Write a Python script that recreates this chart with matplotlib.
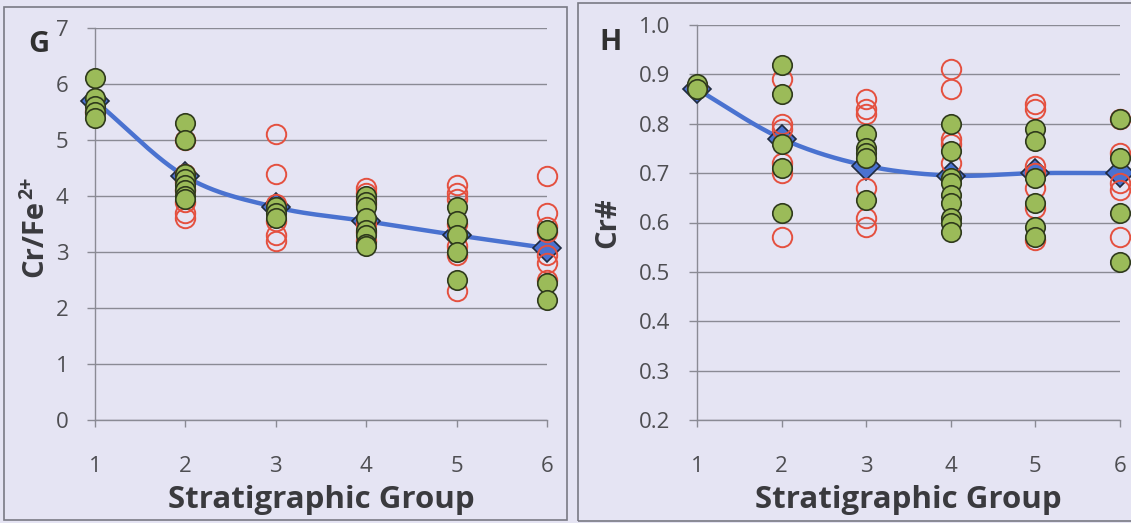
import numpy as np
import matplotlib
matplotlib.use("Agg")
import matplotlib.pyplot as plt
from matplotlib.patches import Rectangle

plt.rcParams['font.family'] = ['Open Sans', 'DejaVu Sans']

groups = [1, 2, 3, 4, 5, 6]

# Panel G: Cr/Fe2+ ratio
g_mean = [5.70, 4.35, 3.80, 3.55, 3.30, 3.07]
g_green = [
    [6.10, 5.75, 5.60, 5.50, 5.40],
    [5.30, 5.00, 4.40, 4.30, 4.20, 4.10, 4.00, 3.95],
    [3.80, 3.70, 3.60],
    [4.00, 3.90, 3.80, 3.60, 3.40, 3.30, 3.15, 3.10],
    [3.80, 3.55, 3.30, 3.00, 2.50],
    [3.40, 2.45, 2.15],
]
g_red = [
    [5.50],
    [5.00, 4.40, 4.25, 4.10, 3.90, 3.70, 3.60],
    [5.10, 4.40, 3.85, 3.55, 3.30, 3.20],
    [4.15, 4.05, 3.95, 3.85, 3.50, 3.35, 3.20],
    [4.20, 4.05, 3.95, 3.50, 3.10, 2.95, 2.30],
    [4.35, 3.70, 3.45, 3.35, 2.95, 2.80, 2.50],
]

# Panel H: Cr# values
h_mean = [0.870, 0.770, 0.715, 0.695, 0.700, 0.700]
h_green = [
    [0.880, 0.870],
    [0.920, 0.860, 0.760, 0.710, 0.620],
    [0.780, 0.750, 0.740, 0.730, 0.645],
    [0.800, 0.745, 0.690, 0.680, 0.655, 0.640, 0.610, 0.600, 0.580],
    [0.790, 0.765, 0.690, 0.640, 0.590, 0.570],
    [0.810, 0.730, 0.620, 0.520],
]
h_red = [
    [0.875],
    [0.890, 0.800, 0.790, 0.720, 0.700, 0.570],
    [0.850, 0.830, 0.820, 0.670, 0.610, 0.590],
    [0.910, 0.870, 0.770, 0.760, 0.720],
    [0.840, 0.830, 0.715, 0.700, 0.670, 0.630, 0.565],
    [0.810, 0.740, 0.680, 0.665, 0.570],
]

BG = '#e5e4f3'
GRID = '#8a8a94'
TXT = '#4e4e52'
DARK = '#3a3a3e'
LINE_BLUE = '#4a72d0'
GREEN = '#9bbb59'
GREEN_EDGE = '#2f3a1c'
RED = '#e4503f'

W, H = 1131, 523
fig = plt.figure(figsize=(W / 100, H / 100), dpi=100, facecolor=BG)


def px_axes(x0, x1, y_top, y_bot):
    return fig.add_axes([x0 / W, 1 - y_bot / H, (x1 - x0) / W, (y_bot - y_top) / H])


def smooth(xs, ys, n=30):
    # Catmull-Rom curve through the group means
    xs = np.asarray(xs, float)
    ys = np.asarray(ys, float)
    px = np.concatenate([[2 * xs[0] - xs[1]], xs, [2 * xs[-1] - xs[-2]]])
    py = np.concatenate([[2 * ys[0] - ys[1]], ys, [2 * ys[-1] - ys[-2]]])
    out_x, out_y = [], []
    t = np.linspace(0, 1, n)
    for i in range(1, len(px) - 2):
        for arr, out in ((px, out_x), (py, out_y)):
            p0, p1, p2, p3 = arr[i - 1], arr[i], arr[i + 1], arr[i + 2]
            seg = 0.5 * ((2 * p1) + (-p0 + p2) * t
                         + (2 * p0 - 5 * p1 + 4 * p2 - p3) * t ** 2
                         + (-p0 + 3 * p1 - 3 * p2 + p3) * t ** 3)
            out.extend(seg)
    return np.array(out_x), np.array(out_y)


def draw_panel(ax, means, greens, reds, ylim, yticks, yfmt, letter, letter_xy):
    ax.set_facecolor('none')
    ax.set_xlim(1, 6)
    ax.set_ylim(*ylim)
    for spine in ('top', 'right'):
        ax.spines[spine].set_visible(False)
    for spine in ('left', 'bottom'):
        ax.spines[spine].set_color(GRID)
        ax.spines[spine].set_linewidth(1.0)
    ax.set_yticks(yticks)
    ax.set_yticklabels([yfmt.format(v) for v in yticks])
    ax.set_xticks(groups)
    ax.tick_params(axis='y', colors=GRID, labelcolor=TXT, labelsize=16,
                   length=6, width=1.0, pad=13)
    ax.tick_params(axis='x', colors=GRID, labelcolor=TXT, labelsize=16,
                   length=5, width=1.0, pad=21)
    ax.yaxis.grid(True, color=GRID, linewidth=1.0)
    ax.set_axisbelow(True)

    sx, sy = smooth(groups, means)
    ax.plot(sx, sy, color=LINE_BLUE, linewidth=3.2, zorder=2,
            solid_capstyle='round', clip_on=False)
    ax.plot(groups, means, linestyle='none', marker='D', markersize=14,
            markerfacecolor=LINE_BLUE, markeredgecolor='#1f2a40',
            markeredgewidth=1.2, zorder=3, clip_on=False)

    for g, vals in zip(groups, reds):
        ax.plot([g] * len(vals), vals, linestyle='none', marker='o',
                markersize=14, markerfacecolor='none', markeredgecolor=RED,
                markeredgewidth=1.4, zorder=4, clip_on=False)
    for g, vals in zip(groups, greens):
        ax.plot([g] * len(vals), vals, linestyle='none', marker='o',
                markersize=14, markerfacecolor=GREEN,
                markeredgecolor=GREEN_EDGE, markeredgewidth=1.2, zorder=5,
                clip_on=False)

    ax.set_xlabel('Stratigraphic Group', fontsize=22.5, fontweight='bold',
                  color=DARK, labelpad=6)
    fig.text(letter_xy[0] / W, 1 - letter_xy[1] / H, letter, fontsize=21,
             fontweight='bold', color='#303030', ha='center', va='center')


# Panel frames
fig.add_artist(Rectangle((4 / W, 1 - 520 / H), (567 - 4) / W, (520 - 7) / H,
                         transform=fig.transFigure, fill=False,
                         edgecolor='#7a7a84', linewidth=1.2))
fig.add_artist(Rectangle((578 / W, 1 - 521 / H), (1140 - 578) / W, (521 - 3) / H,
                         transform=fig.transFigure, fill=False,
                         edgecolor='#7a7a84', linewidth=1.2))

ax_g = px_axes(95, 547, 28, 420)
draw_panel(ax_g, g_mean, g_green, g_red, (0, 7), list(range(0, 8)), '{:d}',
           'G', (39, 44))

ax_h = px_axes(697, 1120, 25, 420)
draw_panel(ax_h, h_mean, h_green, h_red, (0.2, 1.0),
           [0.2, 0.3, 0.4, 0.5, 0.6, 0.7, 0.8, 0.9, 1.0], '{:.1f}',
           'H', (610, 43))

# Y-axis titles; the ionic charge is set as a raised, smaller run of text
base = fig.text(35 / W, 1 - 277 / H, 'Cr/Fe', fontsize=21, fontweight='bold',
                color=DARK, rotation=90, ha='center', va='bottom')
fig.canvas.draw()
bb = base.get_window_extent()
fig.text((35 - 8) / W, (bb.y1 + 1) / H, '2+', fontsize=14, fontweight='bold',
         color=DARK, rotation=90, ha='center', va='bottom')

fig.text(608 / W, 1 - 223 / H, 'Cr#', fontsize=21, fontweight='bold',
         color=DARK, rotation=90, ha='center', va='center')

fig.savefig('out.png', dpi=100, facecolor=BG)
